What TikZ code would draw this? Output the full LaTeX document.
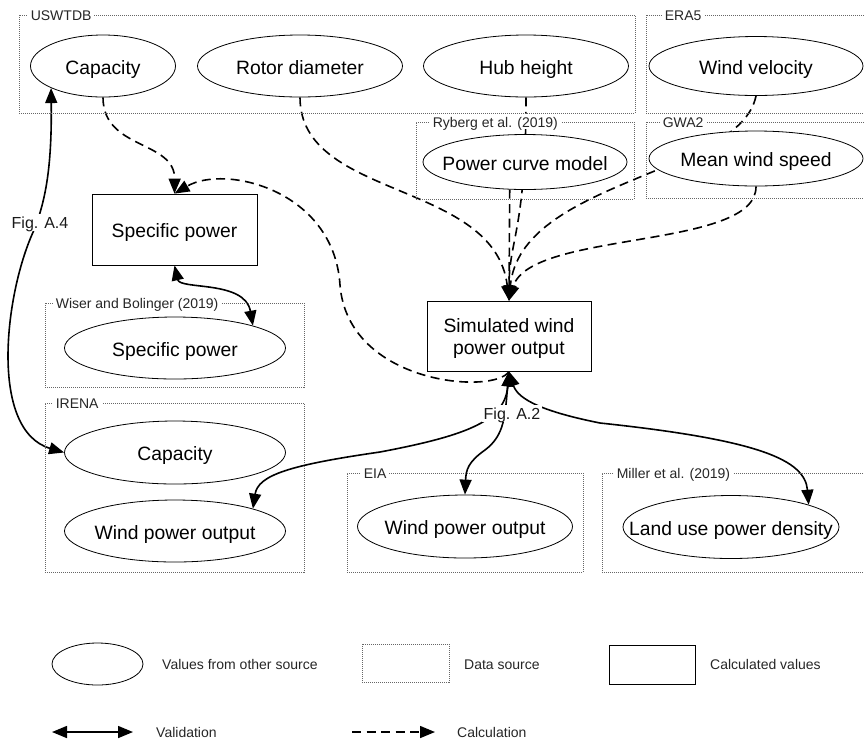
\documentclass[tikz,border=0pt]{standalone}
\usepackage{fontspec}
\setmainfont{Liberation Sans}
\usetikzlibrary{shapes.geometric,arrows.meta,backgrounds}
\newcommand{\zw}[1]{\makebox[0pt][c]{#1}}
\tikzset{
  val/.style={ellipse, draw=black, line width=0.8pt, fill=white, inner sep=0pt, text height=16pt, text depth=0pt, font=\fontsize{19.3}{22}\selectfont},
  calcbox/.style={rectangle, draw=black, line width=0.8pt, fill=white, inner sep=0pt, align=center, font=\fontsize{19.3}{22}\selectfont},
  srcbox/.style={rectangle, draw=black!60, line width=0.8pt, dash pattern=on 1pt off 1pt, inner sep=0pt},
  srclab/.style={anchor=west, fill=white, inner xsep=3pt, inner ysep=2pt, text height=11.6pt, text depth=0pt, font=\fontsize{14}{16}\selectfont, text=black!85},
  tip/.tip={Triangle[length=15pt,width=12pt]},
  calcedge/.style={line width=1.6pt, dash pattern=on 9pt off 5.5pt, -tip},
  validedge/.style={line width=1.6pt, tip-tip},
  figlab/.style={fill=white, inner sep=2pt, text height=13pt, text depth=0pt, font=\fontsize{16}{18}\selectfont, text=black!90},
  legtext/.style={anchor=west, inner sep=0pt, text height=11.6pt, text depth=0pt, font=\fontsize{14}{16}\selectfont, text=black!85}
}
\begin{document}
\begin{tikzpicture}[x=1pt,y=-1pt]
\useasboundingbox (0,0) rectangle (864,740);

% data source boxes
\node[srcbox, minimum width=616pt, minimum height=98pt] (bUS) at (327,64) {};
\node[srcbox, minimum width=220pt, minimum height=98pt] (bERA) at (756,64) {};
\node[srcbox, minimum width=218pt, minimum height=77pt] (bRy) at (525,160.5) {};
\node[srcbox, minimum width=220pt, minimum height=76pt] (bGWA) at (756,160) {};
\node[srcbox, minimum width=259pt, minimum height=84pt] (bWi) at (174.5,345) {};
\node[srcbox, minimum width=259pt, minimum height=169pt] (bIR) at (174.5,487.5) {};
\node[srcbox, minimum width=236pt, minimum height=99pt] (bEIA) at (465,522.5) {};
\node[srcbox, minimum width=264pt, minimum height=99pt] (bMi) at (734,522.5) {};

% values from other sources
\node[val, minimum width=145pt, minimum height=62pt] (capU) at (103,66) {\zw{Capacity}};
\node[val, minimum width=205pt, minimum height=62pt] (rotor) at (300,66) {\zw{Rotor diameter}};
\node[val, minimum width=205pt, minimum height=62pt] (hub) at (526,66) {\zw{Hub height}};
\node[val, minimum width=214pt, minimum height=59pt] (wvel) at (756,66) {\zw{Wind velocity}};
\node[val, minimum width=204pt, minimum height=55pt] (pcm) at (525,162) {\zw{Power curve model}};
\node[val, minimum width=214pt, minimum height=55pt] (mws) at (756,158.5) {\zw{Mean wind speed}};
\node[val, minimum width=221pt, minimum height=62pt] (wsp) at (175,348) {\zw{Specific power}};
\node[val, minimum width=221pt, minimum height=63pt] (icap) at (175,452.5) {\zw{Capacity}};
\node[val, minimum width=221pt, minimum height=62pt] (iwpo) at (175,531) {\zw{Wind power output}};
\node[val, minimum width=215pt, minimum height=63pt] (ewpo) at (465,526.5) {\zw{Wind power output}};
\node[val, minimum width=216pt, minimum height=63pt] (lud) at (731,527) {\zw{Land use power density}};

% calculated values
\node[calcbox, minimum width=165pt, minimum height=71pt, text height=16pt, text depth=0pt] (spec) at (174.5,229.5) {Specific power};
\node[calcbox, minimum width=164pt, minimum height=70pt] (sim) at (509,336) {};
\node[font=\fontsize{19.3}{22}\selectfont, align=center, inner sep=0pt] (simt) at (509,338) {Simulated wind\\power output};

% source labels
\node[srclab] at ([xshift=9pt]bUS.north west) {USWTDB};
\node[srclab] at ([xshift=16pt]bERA.north west) {ERA5};
\node[srclab] at ([xshift=14pt]bRy.north west) {Ryberg et al. (2019)};
\node[srclab] at ([xshift=14pt]bGWA.north west) {GWA2};
\node[srclab] at ([xshift=8pt]bWi.north west) {Wiser and Bolinger (2019)};
\node[srclab] at ([xshift=8pt]bIR.north west) {IRENA};
\node[srclab] at ([xshift=14pt]bEIA.north west) {EIA};
\node[srclab] at ([xshift=12pt]bMi.north west) {Miller et al. (2019)};

% figure labels
\node[figlab] (f4) at (40,222) {Fig. A.4};
\node[figlab] (f2) at (512,413) {Fig. A.2};

% connectors
\begin{pgfonlayer}{background}
\draw[calcedge] (capU.south) .. controls (103,150) and (175,140) .. (spec.north);
\draw[calcedge] (sim.south) .. controls (495,395) and (348,385) .. (340,285) .. controls (334,190) and (225,164) .. (spec.north);
\draw[calcedge] (rotor.south) .. controls (300,200) and (495,180) .. (sim.north);
\draw[calcedge] (hub.south) .. controls (526,230) and (509,240) .. (sim.north);
\draw[calcedge] (pcm.241) -- (sim.north);
\draw[calcedge] (wvel.south) .. controls (740,175) and (520,180) .. (sim.north);
\draw[calcedge] (mws.south) .. controls (757,250) and (530,230) .. (sim.north);

\draw[validedge] (spec.south) .. controls (180,290) and (245,280) .. (wsp.16);
\draw[validedge] (capU.203) .. controls (52,170) and (45,200) .. (35,228) .. controls (5,290) and (-12,430) .. (icap.west);
\draw[validedge] (sim.south) .. controls (505,420) and (470,435) .. (380,452) .. controls (290,465) and (258,475) .. (iwpo.16);
\draw[validedge] (sim.south) .. controls (505,415) and (505,435) .. (485,450) .. controls (468,462) and (466,470) .. (ewpo.north);
\draw[validedge] (sim.south) .. controls (518,400) and (545,412) .. (600,423) .. controls (760,440) and (805,460) .. (lud.16);
\end{pgfonlayer}

% legend
\node[val, minimum width=91pt, minimum height=42pt] (lgE) at (97.5,664) {};
\node[legtext] (lgEt) at (162,664) {Values from other source};
\node[srcbox, minimum width=87pt, minimum height=38pt] (lgS) at (405.5,663) {};
\node[legtext] (lgSt) at (464,664) {Data source};
\node[calcbox, minimum width=86pt, minimum height=39pt] (lgC) at (652,664.5) {};
\node[legtext] (lgCt) at (710,664) {Calculated values};
\coordinate (v1) at (52,732);
\coordinate (v2) at (133,732);
\draw[validedge] (v1) -- (v2);
\node[legtext] (lgVt) at (156,732) {Validation};
\coordinate (c1) at (352,732);
\coordinate (c2) at (435,732);
\draw[calcedge] (c1) -- (c2);
\node[legtext] (lgKt) at (457,732) {Calculation};
\end{tikzpicture}
\end{document}
